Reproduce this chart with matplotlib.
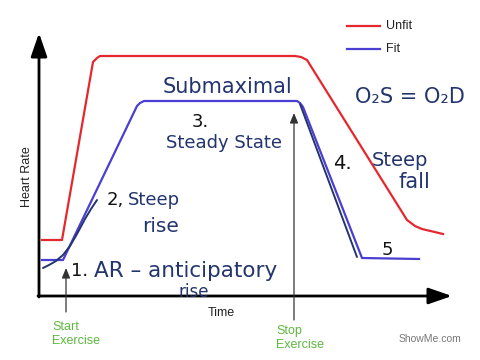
import matplotlib
matplotlib.use("Agg")
import matplotlib.pyplot as plt

# Data (arbitrary time / heart-rate units)
unfit_time = [3, 23, 54, 58, 61, 256, 262, 268, 368, 376, 383, 404]
unfit_rate = [56, 56, 234, 238, 240, 240, 239, 236, 76, 70, 67, 62]
fit_time = [3, 24, 98, 101, 105, 258, 261, 264, 323, 380]
fit_rate = [36, 36, 190, 193, 195, 195, 193, 189, 38, 37]
# hand-drawn overlay strokes
ar_time = [4, 10, 17, 24, 31, 38, 46, 52, 58]
ar_rate = [28, 31, 35, 41, 50, 62, 77, 87, 96]
fall_time = [261, 318]
fall_rate = [192, 39]
start_time = 27
stop_time = 255

RED = "#e4282e"
BLUE = "#4a3fd0"
INK = "#23346e"
GREEN = "#5db83e"

W, H = 480, 360
fig = plt.figure(figsize=(4.8, 3.6), dpi=100)
fig.patch.set_facecolor("white")
ax = fig.add_axes([39 / W, 64 / H, 413 / W, 263 / H])
ax.set_xlim(0, 413)
ax.set_ylim(0, 263)
ax.axis("off")

def fx(px):
    return px / W

def fy(py):
    return 1 - py / H

# axes with arrows
ax.annotate("", xy=(413, 0), xytext=(-1, 0),
            arrowprops=dict(arrowstyle="-|>,head_length=1.1,head_width=0.38",
                            color="black", lw=2, mutation_scale=13, shrinkA=0, shrinkB=0),
            annotation_clip=False)
ax.annotate("", xy=(0, 263), xytext=(0, -1),
            arrowprops=dict(arrowstyle="-|>,head_length=1.1,head_width=0.38",
                            color="black", lw=2, mutation_scale=13, shrinkA=0, shrinkB=0),
            annotation_clip=False)

ax.plot(unfit_time, unfit_rate, color=RED, lw=1.6, clip_on=False, solid_joinstyle="round")
ax.plot(fit_time, fit_rate, color=BLUE, lw=1.6, clip_on=False, solid_joinstyle="round")
ax.plot(ar_time, ar_rate, color=INK, lw=1.4, clip_on=False, solid_capstyle="round")
ax.plot(fall_time, fall_rate, color=INK, lw=1.4, clip_on=False, solid_capstyle="round")

# start / stop arrows
ax.annotate("", xy=(start_time, 28), xytext=(start_time, -16),
            arrowprops=dict(arrowstyle="-|>,head_length=0.6,head_width=0.25",
                            color="#333333", lw=0.9, mutation_scale=10, shrinkA=0, shrinkB=0),
            annotation_clip=False)
ax.annotate("", xy=(stop_time, 183), xytext=(stop_time, -24),
            arrowprops=dict(arrowstyle="-|>,head_length=0.6,head_width=0.25",
                            color="#333333", lw=0.9, mutation_scale=10, shrinkA=0, shrinkB=0),
            annotation_clip=False)

# printed labels
sans = ["Liberation Sans", "DejaVu Sans"]
fig.text(fx(27), fy(177), "Heart Rate", rotation=90, ha="center", va="center",
         fontsize=9, family=sans, color="#222222")
fig.text(fx(221), fy(313), "Time", ha="center", va="center", fontsize=9,
         family=sans, color="#222222")
fig.text(fx(52), fy(334), "Start\nExercise", ha="left", va="center", fontsize=9,
         family=sans, color=GREEN, linespacing=1.2)
fig.text(fx(276), fy(338), "Stop\nExercise", ha="left", va="center", fontsize=9,
         family=sans, color=GREEN, linespacing=1.2)
fig.text(fx(399), fy(339), "ShowMe.com", ha="left", va="center", fontsize=7.5,
         family=sans, color="#777777")

# legend
fig.lines.append(plt.Line2D([fx(347), fx(380)], [fy(26), fy(26)], color=RED, lw=1.6,
                            transform=fig.transFigure))
fig.lines.append(plt.Line2D([fx(347), fx(380)], [fy(49), fy(49)], color=BLUE, lw=1.6,
                            transform=fig.transFigure))
fig.text(fx(386), fy(26), "Unfit", ha="left", va="center", fontsize=9, family=sans, color="#222222")
fig.text(fx(386), fy(49), "Fit", ha="left", va="center", fontsize=9, family=sans, color="#222222")

# handwritten annotations
hw = dict(family=["DejaVu Sans"], color=INK)
blk = dict(family=["DejaVu Sans"], color="#111111")
fig.text(fx(228), fy(87), "Submaximal", ha="center", va="center", fontsize=15, **hw)
fig.text(fx(200), fy(122), "3.", ha="center", va="center", fontsize=13, **blk)
fig.text(fx(224), fy(143), "Steady State", ha="center", va="center", fontsize=13, **hw)
fig.text(fx(107), fy(200), "2,", ha="left", va="center", fontsize=13, **blk)
fig.text(fx(128), fy(200), "Steep", ha="left", va="center", fontsize=13, **hw)
fig.text(fx(161), fy(226), "rise", ha="center", va="center", fontsize=14.5, **hw)
fig.text(fx(71), fy(271), "1.", ha="left", va="center", fontsize=13, **blk)
fig.text(fx(94), fy(271), "AR – anticipatory", ha="left", va="center", fontsize=15.5, **hw)
fig.text(fx(194), fy(292), "rise", ha="center", va="center", fontsize=12, **hw)
fig.text(fx(333), fy(164), "4.", ha="left", va="center", fontsize=14, **blk)
fig.text(fx(372), fy(160), "Steep", ha="left", va="center", fontsize=14, **hw)
fig.text(fx(414), fy(182), "fall", ha="center", va="center", fontsize=15, **hw)
fig.text(fx(387), fy(250), "5", ha="center", va="center", fontsize=13, **blk)
fig.text(fx(410), fy(97), "O₂S = O₂D", ha="center", va="center", fontsize=15, **hw)

fig.savefig("out.png", dpi=100, facecolor="white")
